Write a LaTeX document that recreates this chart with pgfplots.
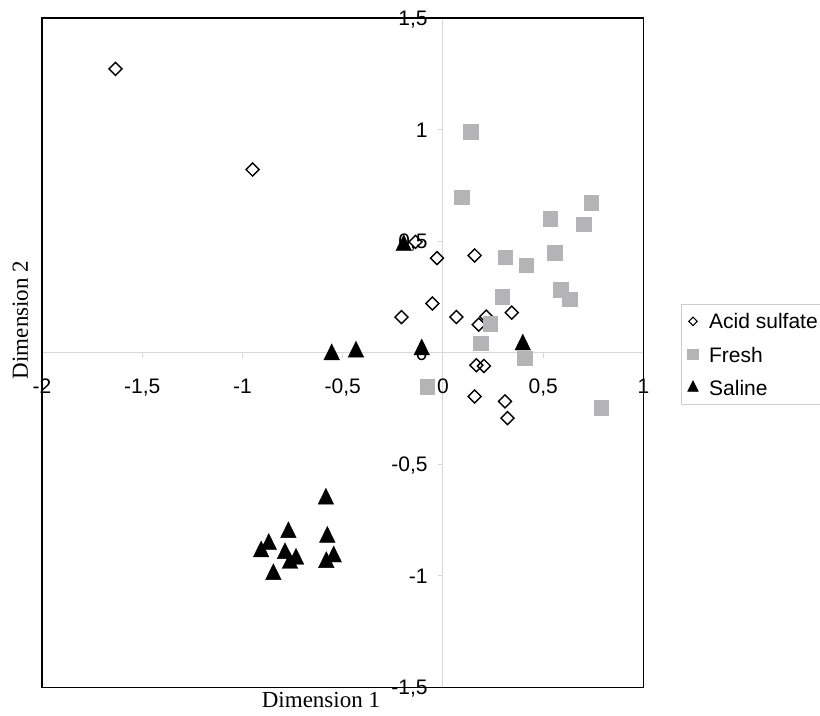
\documentclass[border=0pt]{standalone}
\usepackage{pgfplots}
\pgfplotsset{compat=1.18}
\usepackage{fontspec}
\setmainfont{Liberation Sans}
\newfontfamily\seriffont{Liberation Serif}
\definecolor{sqgray}{RGB}{180,180,182}
\definecolor{zerogray}{RGB}{215,215,215}
\definecolor{leggray}{RGB}{205,205,205}
\pgfplotstableread{
x y
-1.633 1.272
-0.950 0.821
-0.137 0.497
-0.030 0.424
-0.053 0.221
-0.207 0.160
0.158 0.436
0.067 0.160
0.216 0.162
0.343 0.180
0.178 0.126
0.166 -0.056
0.204 -0.059
0.158 -0.196
0.309 -0.218
0.322 -0.293
}\acid
\pgfplotstableread{
x y
0.139 0.990
0.095 0.696
0.740 0.670
0.537 0.600
0.702 0.574
0.559 0.447
0.312 0.426
0.416 0.391
0.297 0.250
0.589 0.280
0.634 0.238
0.236 0.129
0.191 0.041
0.408 -0.026
-0.078 -0.154
0.791 -0.247
}\fresh
\pgfplotstableread{
x y
-0.196 0.481
-0.555 -0.008
-0.434 0.004
-0.106 0.014
0.398 0.036
-0.584 -0.655
-0.771 -0.805
-0.577 -0.826
-0.869 -0.858
-0.907 -0.891
-0.788 -0.899
-0.733 -0.924
-0.763 -0.943
-0.545 -0.914
-0.582 -0.939
-0.846 -0.993
}\saline
\begin{document}
\begin{tikzpicture}
\useasboundingbox (0,0) rectangle (410pt,358pt);
\begin{axis}[
  at={(21pt,14.25pt)}, anchor=south west,
  scale only axis, width=300.75pt, height=334.75pt,
  xmin=-2, xmax=1, ymin=-1.5, ymax=1.5,
  axis lines=middle,
  axis line style={-, zerogray, line width=0.5pt},
  hide obscured x ticks=false, hide obscured y ticks=false,
  xtick={-2,-1.5,-1,-0.5,0,0.5,1},
  xticklabels={-2,{-1,5},-1,{-0,5},0,{0,5},1},
  ytick={-1.5,-1,-0.5,0,0.5,1,1.5},
  yticklabels={{-1,5},-1,{-0,5},0,{0,5},1,{1,5}},
  tick align=outside, major tick length=2.5pt,
  tick style={zerogray, line width=0.5pt},
  xticklabel style={anchor=north, inner sep=0pt, text height=7.5pt, text depth=0pt, yshift=-10pt, font=\fontsize{10.5}{12}\selectfont},
  yticklabel style={anchor=east, inner sep=0pt, text height=7.5pt, text depth=0pt, xshift=-5pt, font=\fontsize{10.5}{12}\selectfont},
  every axis x label/.style={at={(axis description cs:0.4638,-0.02957)}, anchor=base, font=\seriffont\fontsize{11.5}{13}\selectfont},
  every axis y label/.style={at={(axis description cs:-0.02328,0.549)}, rotate=90, anchor=base, font=\seriffont\fontsize{11.5}{13}\selectfont},
  xlabel={Dimension 1}, ylabel={Dimension 2},
  clip=false,
  legend cell align=left,
  legend style={name=leg, at={(axis description cs:1.0629,0.5721)}, anchor=north west,
    draw=none, fill=white,
    font=\fontsize{10.5}{12}\selectfont,
    inner xsep=2.95pt, inner ysep=4.5pt, row sep=9.1pt, column sep=5.4pt,
    nodes={inner sep=0pt, text height=7.5pt, text depth=0pt}},
]
\addplot[only marks, mark=square, mark size=2.3pt,
  mark options={rotate=45, draw=black, fill=white, line width=0.7pt},
  legend image code/.code={\draw[only marks, mark=square, mark size=1.5pt, mark options={rotate=45, draw=black, fill=white, line width=0.6pt}] plot coordinates {(0pt,0pt)};}]
  table[x=x,y=y] {\acid};
\addlegendentry{Acid sulfate}
\addplot[only marks, mark=square*, mark size=3.65pt,
  mark options={draw=sqgray, fill=sqgray, line width=0pt},
  legend image code/.code={\draw[only marks, mark=square*, mark size=2.6pt, mark options={draw=sqgray, fill=sqgray, line width=0pt}] plot coordinates {(0pt,0pt)};}]
  table[x=x,y=y] {\fresh};
\addlegendentry{Fresh}
\addplot[only marks, mark=triangle*, mark size=4.5pt,
  mark options={yscale=1.18, draw=black, fill=black, line width=0.2pt},
  legend image code/.code={\draw[only marks, mark=triangle*, mark size=3.1pt, mark options={yscale=1.15, draw=black, fill=black, line width=0.2pt}] plot coordinates {(0pt,0pt)};}]
  table[x=x,y=y] {\saline};
\addlegendentry{Saline}
\draw[black, line width=0.8pt] (rel axis cs:0,0) rectangle (rel axis cs:1,1);
\end{axis}
\draw[leggray, line width=0.5pt] ([xshift=20pt]leg.north east) -- (leg.north west) -- (leg.south west) -- ([xshift=20pt]leg.south east);
\end{tikzpicture}
\end{document}
